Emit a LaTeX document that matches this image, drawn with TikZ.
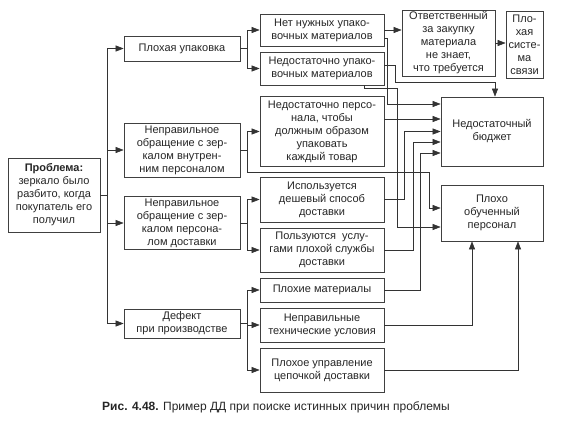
\documentclass[tikz,border=0pt]{standalone}
\usepackage{fontspec}
\setmainfont{Liberation Sans}
\usetikzlibrary{arrows.meta}
\begin{document}
\begin{tikzpicture}[x=1pt,y=-1pt,
    box/.style={draw=black!75,line width=0.7pt,fill=white,align=center,inner sep=1pt,
        text=black!85,font=\fontsize{11}{13}\selectfont},
    causea/.style={box,minimum width=116pt},
    causeb/.style={box,minimum width=124pt},
    arr/.style={draw=black!80,line width=0.6pt,-{Triangle[length=8pt,width=6pt]}},
    lnk/.style={draw=black!80,line width=0.6pt}]
    \useasboundingbox (0,0) rectangle (563,421);
    %% Problem
    \node[box,minimum width=92pt,minimum height=74pt] (prob) at (54,195)
        {\textbf{Проблема:}\\зеркало было\\разбито, когда\\покупатель его\\получил};
    %% First level causes
    \node[causea,minimum height=25pt] (plu) at (182,48.5) {Плохая упаковка};
    \node[causea,minimum height=54pt] (vnut) at (182,150) {Неправильное\\обращение с зер-\\калом внутрен-\\ним персоналом};
    \node[causea,minimum height=53pt] (dost) at (182,223) {Неправильное\\обращение с зер-\\калом персона-\\лом доставки};
    \node[causea,minimum height=29pt] (def) at (182,323.5) {Дефект\\при производстве};
    %% Second level causes
    \node[causeb,minimum height=32pt] (net) at (322,30) {Нет нужных упако-\\вочных материалов};
    \node[causeb,minimum height=33pt] (nedu) at (322,68.5) {Недостаточно упако-\\вочных материалов};
    \node[causeb,minimum height=70pt] (nedp) at (322,131.5) {Недостаточно персо-\\нала, чтобы\\должным образом\\упаковать\\каждый товар};
    \node[causeb,minimum height=45pt] (isp) at (322,199.5) {Используется\\дешевый способ\\доставки};
    \node[causeb,minimum height=44pt] (polz) at (322,250) {Пользуются\ \ услу-\\гами плохой службы\\доставки};
    \node[causeb,minimum height=24pt] (plm) at (322,290) {Плохие материалы};
    \node[causeb,minimum height=34pt] (tech) at (322,325) {Неправильные\\технические условия};
    \node[causeb,minimum height=44pt] (upr) at (322,370) {Плохое управление\\цепочкой доставки};
    %% Root causes
    \node[box,minimum width=93pt,minimum height=66pt] (otv) at (448.5,43) {Ответственный\\за закупку\\материала\\не знает,\\что требуется};
    \node[box,minimum width=37pt,minimum height=67pt] (svz) at (524.5,44.5) {Пло-\\хая\\систе-\\ма\\связи};
    \node[box,minimum width=102pt,minimum height=69pt] (bud) at (492,131.5) {Недостаточный\\бюджет};
    \node[box,minimum width=102pt,minimum height=56pt] (pers) at (492,213) {Плохо\\обученный\\персонал};
    %% Problem to first level
    \draw[arr] (prob.east) -- ++(7,0) |- (plu.west);
    \draw[arr] (prob.east) -- ++(7,0) |- (vnut.west);
    \draw[arr] (prob.east) -- ++(7,0) |- (dost.west);
    \draw[arr] (prob.east) -- ++(7,0) |- (def.west);
    %% First to second level
    \draw[arr] (plu.east) -- ++(7,0) |- (net.west);
    \draw[arr] (plu.east) -- ++(7,0) |- (nedu.west);
    \draw[arr] (vnut.east) -- ++(7,0) |- (nedp.west);
    \draw[arr] (vnut.east) -- ++(7,0) -- ++(0,22) -| ([xshift=-11pt,yshift=5pt]pers.west) -- ([yshift=5pt]pers.west);
    \draw[arr] (dost.east) -- ++(7,0) |- (isp.west);
    \draw[arr] (dost.east) -- ++(7,0) |- (polz.west);
    \draw[arr] (def.east) -- ++(7,0) |- (plm.west);
    \draw[arr] (def.east) -- ++(7,0) |- (tech.west);
    \draw[arr] (def.east) -- ++(7,0) |- (upr.west);
    %% To root causes
    \draw[arr] (net.east) -- (net.east -| otv.west);
    \draw[arr] (otv.east) -- (otv.east -| svz.west);
    \draw[arr] ([yshift=-8pt]net.east) -- ++(3,0) |- ([yshift=27.5pt]bud.west);
    \draw[arr] ([yshift=3.5pt]nedu.east) -- ++(11,0) -- ++(0,17) -| ([xshift=3pt]bud.north);
    \draw[arr] ([xshift=42pt]nedu.south) -- ++(0,3) -| ([xshift=-43pt,yshift=-14pt]pers.west) -- ([yshift=-14pt]pers.west);
    \draw[arr] ([yshift=12.5pt]nedp.east) -- ([yshift=12.5pt]bud.west);
    \draw[arr] (isp.east) -- ++(20,0) |- (bud.west);
    \draw[arr] (polz.east) -- ++(29,0) |- ([yshift=-10.5pt]bud.west);
    \draw[arr] (plm.east) -- ++(36,0) |- ([yshift=-21.5pt]bud.west);
    \draw[arr] (tech.east) -| ([xshift=-20pt]pers.south);
    \draw[arr] (upr.east) -| ([xshift=26pt]pers.south);
    %% Caption
    \node[text=black!85,font=\fontsize{12}{14}\selectfont] (cap) at (276,407)
        {\textbf{Рис. 4.48.} Пример ДД при поиске истинных причин проблемы};
\end{tikzpicture}
\end{document}
